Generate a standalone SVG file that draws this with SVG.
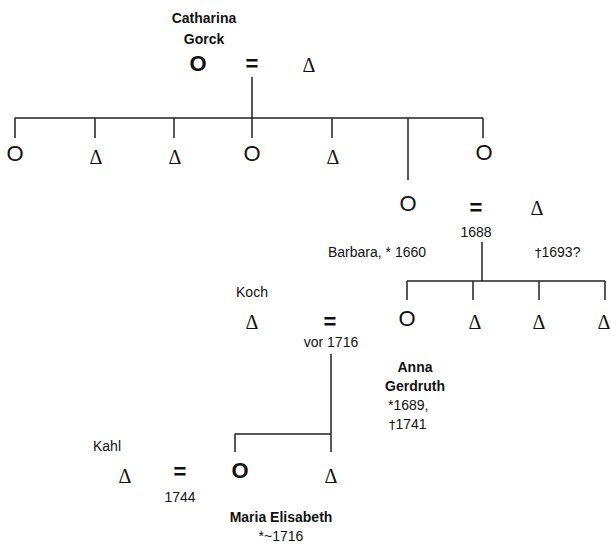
<svg xmlns="http://www.w3.org/2000/svg" width="611" height="544" viewBox="0 0 611 544">
<style>
.t{font-family:"Liberation Sans",Arial,sans-serif;font-size:14px;fill:#111}
.b{font-weight:bold}
.c{text-anchor:middle}
.dg{font-family:"DejaVu Sans",sans-serif;font-size:13px;fill:#111}
.o{font-family:"Liberation Sans",Arial,sans-serif;font-size:22px;fill:#111;text-anchor:middle}
.ob{font-family:"Liberation Sans",Arial,sans-serif;font-size:22px;font-weight:bold;fill:#111;text-anchor:middle}
.d{font-family:"Liberation Serif","Times New Roman",serif;font-size:20px;fill:#111;text-anchor:middle}
.e{font-family:"Liberation Sans",Arial,sans-serif;font-size:22px;font-weight:bold;fill:#111;text-anchor:middle}
.l{stroke:#222;stroke-width:1.5;fill:none}
</style>
<rect width="611" height="544" fill="#fff"/>
<g id="connectors">
<path class="l" d="M252,77V118M15,118H483M15,118V138M95,118V138M174,118V138M252,118V138M332,118V138M408,118V180M483,118V138"/>
<path class="l" d="M482,242V281M407,281H605M407,281V300M473,281V300M539,281V300M605,281V300"/>
<path class="l" d="M331,354V434M235,434H331M235,434V452M331,434V452"/>
</g>
<g id="catharina"><text class="t b c" x="204" y="23">Catharina</text><text class="t b c" x="204" y="44">Gorck</text><text class="ob" x="198" y="71">O</text></g>
<g id="m1"><text class="e" x="252" y="71">=</text></g>
<g id="husband1"><text class="d" x="309" y="72">Δ</text></g>
<g id="c1"><text class="o" x="15" y="161">O</text></g>
<g id="c2"><text class="d" x="96" y="164">Δ</text></g>
<g id="c3"><text class="d" x="175" y="164">Δ</text></g>
<g id="c4"><text class="o" x="252" y="161">O</text></g>
<g id="c5"><text class="d" x="333" y="164">Δ</text></g>
<g id="barbara"><text class="o" x="408" y="211">O</text><text class="t" x="328" y="257">Barbara, * 1660</text></g>
<g id="c7"><text class="o" x="484" y="160">O</text></g>
<g id="m2"><text class="e" x="476" y="215">=</text><text class="t c" x="476" y="237">1688</text></g>
<g id="husband2"><text class="d" x="537" y="215">Δ</text><text class="t" x="535" y="257"><tspan class="dg">†</tspan>1693?</text></g>
<g id="anna"><text class="o" x="407" y="326">O</text><text class="t b c" x="415" y="372">Anna</text><text class="t b c" x="415" y="391">Gerdruth</text><text class="t" x="388" y="410">*1689,</text><text class="t" x="389" y="429"><tspan class="dg">†</tspan>1741</text></g>
<g id="g2"><text class="d" x="475" y="329">Δ</text></g>
<g id="g3"><text class="d" x="539" y="329">Δ</text></g>
<g id="g4"><text class="d" x="604" y="329">Δ</text></g>
<g id="koch"><text class="t c" x="252" y="297">Koch</text><text class="d" x="252" y="329">Δ</text></g>
<g id="m3"><text class="e" x="330" y="329">=</text><text class="t c" x="331" y="347">vor 1716</text></g>
<g id="maria"><text class="ob" x="240" y="478">O</text><text class="t b c" x="281" y="522">Maria Elisabeth</text><text class="t c" x="281" y="541">*~1716</text></g>
<g id="s2"><text class="d" x="331" y="483">Δ</text></g>
<g id="kahl"><text class="t c" x="107" y="451">Kahl</text><text class="d" x="125" y="483">Δ</text></g>
<g id="m4"><text class="e" x="180" y="479">=</text><text class="t c" x="180" y="502">1744</text></g>
</svg>
